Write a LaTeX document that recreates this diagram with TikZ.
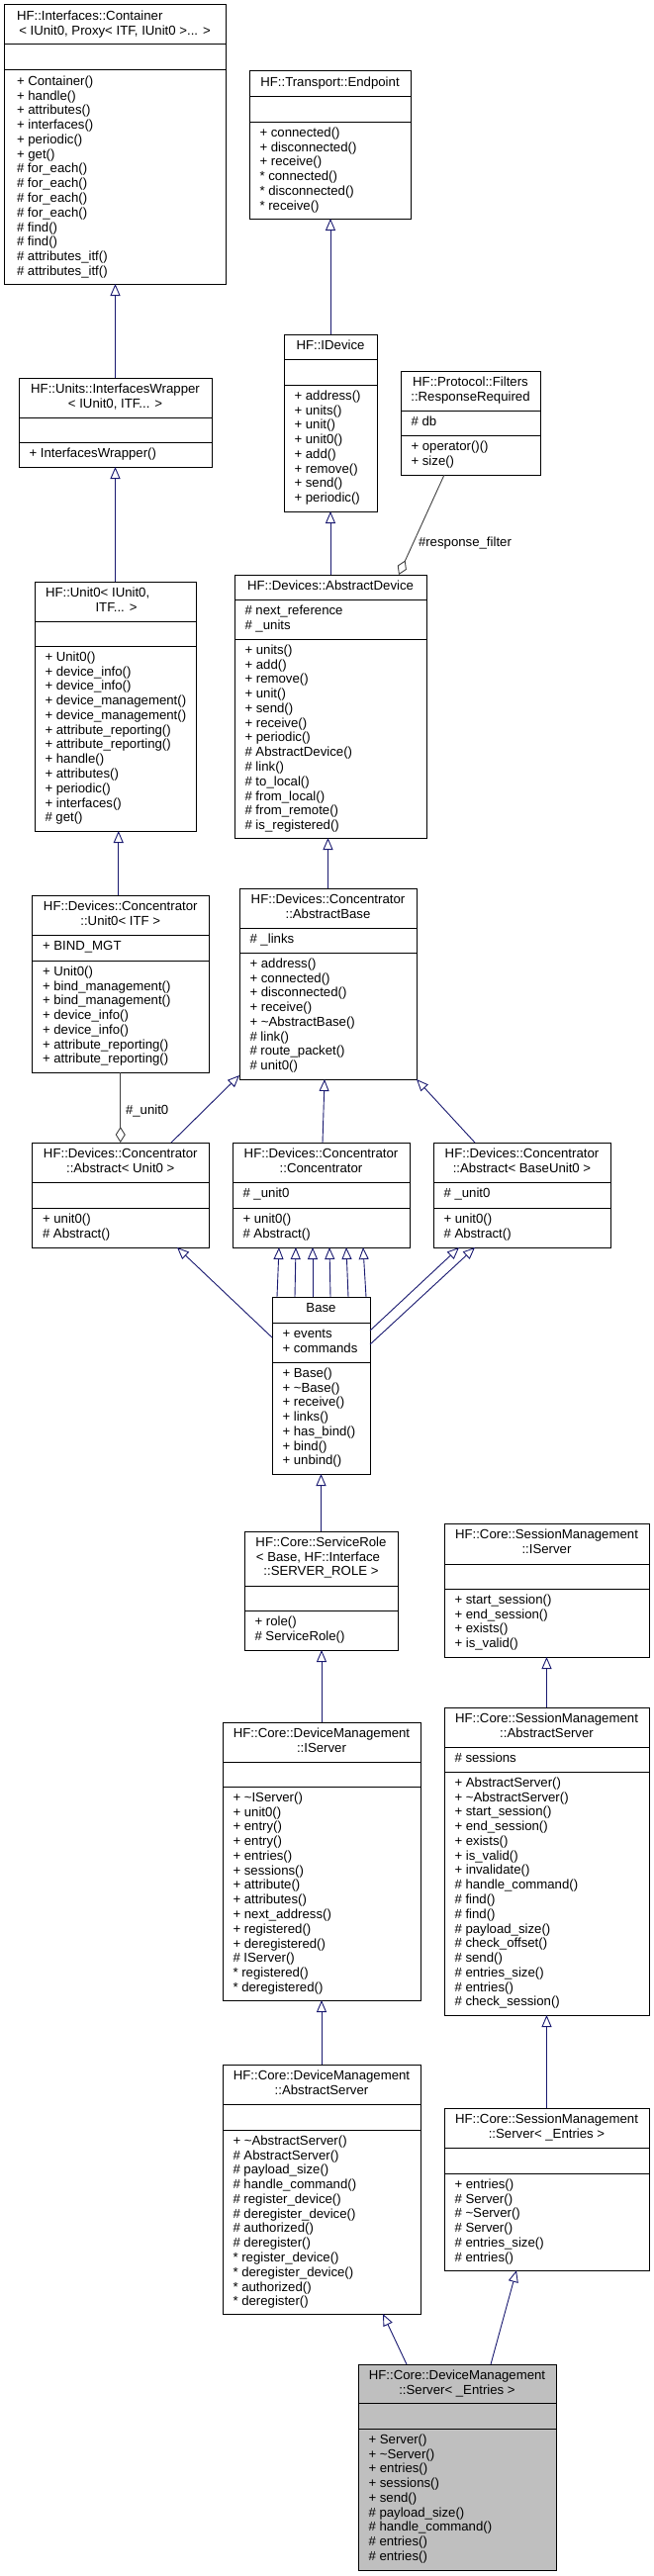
\documentclass[tikz,border=0pt]{standalone}
\usepackage{fontspec}
\setmainfont{Liberation Sans}
\usetikzlibrary{arrows.meta}
\definecolor{navyc}{HTML}{191970}
\definecolor{aggc}{HTML}{404040}
\definecolor{selc}{HTML}{BFBFBF}
\tikzset{
  clsbox/.style={rectangle, draw=black, line width=1pt, fill=white, inner sep=0pt, outer sep=0pt},
  sepl/.style={draw=black, line width=1pt},
  txt/.style={font=\fontsize{13.2}{14.77}\selectfont, inner sep=0pt, outer sep=0pt},
  inh/.style={draw=navyc, line width=0.9pt, -{Triangle[length=12pt, width=10pt, fill=white]}},
  agg/.style={draw=aggc, line width=0.9pt, -{Diamond[length=16pt, width=10pt, fill=white]}}
}
% #1 options, #2 name, #3 left, #4 top, #5 right, #6 bottom, #7 sep1, #8 sep2
\newcommand\clsbx[8][]{%
  \node[clsbox,#1,anchor=north west,minimum width={#5-#3},minimum height={#6-#4}] (#2) at (#3,#4) {};
  \draw[sepl] (#3,#7) -- (#5,#7);
  \draw[sepl] (#3,#8) -- (#5,#8);}
\newcommand\ctitle[3]{\node[txt,anchor=base] at (#1,#2) {#3};}
\newcommand\wtitle[3]{\node[txt,anchor=base west] at (#1,#2) {#3};}
\newcommand\mlist[3]{\foreach \itm [count=\i from 0] in {#3} {\node[txt,anchor=base west] at ({#1},{#2+\i*14.77}) {\itm};}}
\begin{document}
\begin{tikzpicture}[x=1pt,y=-1pt]
\fill[white] (0,0) rectangle (661,2604);
\useasboundingbox (0,0) rectangle (661,2604);

% Container
\clsbx{container}{4}{5}{228}{287}{45}{71}
\wtitle{17}{20.3}{HF::Interfaces::Container}
\ctitle{116}{35.07}{< IUnit0, Proxy< ITF, IUnit0 >... >}
\mlist{17}{86.3}{+ Container(), + handle(), + attributes(), + interfaces(), + periodic(), + get(), \# for\_each(), \# for\_each(), \# for\_each(), \# for\_each(), \# find(), \# find(), \# attributes\_itf(), \# attributes\_itf()}

% InterfacesWrapper
\clsbx{wrapper}{19}{382}{214}{472}{422}{447}
\ctitle{116.5}{397.3}{HF::Units::InterfacesWrapper}
\ctitle{116.5}{412.07}{< IUnit0, ITF... >}
\mlist{29.5}{462.3}{+ InterfacesWrapper()}

% Unit0<IUnit0,ITF...>
\clsbx{unit0i}{35}{588}{198}{840}{628}{653}
\wtitle{46}{603.3}{HF::Unit0< IUnit0,}
\ctitle{117.5}{618.07}{ITF... >}
\mlist{45.5}{668.3}{+ Unit0(), + device\_info(), + device\_info(), + device\_management(), + device\_management(), + attribute\_reporting(), + attribute\_reporting(), + handle(), + attributes(), + periodic(), + interfaces(), \# get()}

% Endpoint
\clsbx{endpoint}{252}{72}{415}{221}{97}{123}
\ctitle{333.5}{87.3}{HF::Transport::Endpoint}
\mlist{262.5}{138.3}{+ connected(), + disconnected(), + receive(), * connected(), * disconnected(), * receive()}

% IDevice
\clsbx{idevice}{287}{338}{381}{517}{363}{389}
\ctitle{334}{353.3}{HF::IDevice}
\mlist{297.5}{404.3}{+ address(), + units(), + unit(), + unit0(), + add(), + remove(), + send(), + periodic()}

% ResponseRequired
\clsbx{respreq}{405}{375}{546}{480}{415}{440}
\ctitle{475.5}{390.3}{HF::Protocol::Filters}
\ctitle{475.5}{405.07}{::ResponseRequired}
\mlist{415.5}{430.3}{\# db}
\mlist{415.5}{455.3}{+ operator()(), + size()}

% AbstractDevice
\clsbx{absdev}{237}{581}{431}{847}{606}{646}
\ctitle{334}{596.3}{HF::Devices::AbstractDevice}
\mlist{247.5}{621.3}{\# next\_reference, \# \_units}
\mlist{247.5}{661.3}{+ units(), + add(), + remove(), + unit(), + send(), + receive(), + periodic(), \# AbstractDevice(), \# link(), \# to\_local(), \# from\_local(), \# from\_remote(), \# is\_registered()}

% Concentrator::Unit0<ITF>
\clsbx{cunit0}{32.5}{905}{211}{1084}{945}{971}
\ctitle{121.75}{920.3}{HF::Devices::Concentrator}
\ctitle{121.75}{935.07}{::Unit0< ITF >}
\mlist{43}{960.3}{+ BIND\_MGT}
\mlist{43}{986.3}{+ Unit0(), + bind\_management(), + bind\_management(), + device\_info(), + device\_info(), + attribute\_reporting(), + attribute\_reporting()}

% AbstractBase
\clsbx{absbase}{242}{898}{421}{1091}{938}{963}
\ctitle{331.5}{913.3}{HF::Devices::Concentrator}
\ctitle{331.5}{928.07}{::AbstractBase}
\mlist{252.5}{953.3}{\# \_links}
\mlist{252.5}{978.3}{+ address(), + connected(), + disconnected(), + receive(), + \textasciitilde AbstractBase(), \# link(), \# route\_packet(), \# unit0()}

% Abstract<Unit0>
\clsbx{absunit0}{32.5}{1155}{211}{1261}{1195}{1221}
\ctitle{121.75}{1170.3}{HF::Devices::Concentrator}
\ctitle{121.75}{1185.07}{::Abstract< Unit0 >}
\mlist{43}{1236.3}{+ unit0(), \# Abstract()}

% Concentrator
\clsbx{conc}{235}{1155}{414}{1261}{1195}{1221}
\ctitle{324.5}{1170.3}{HF::Devices::Concentrator}
\ctitle{324.5}{1185.07}{::Concentrator}
\mlist{245.5}{1210.3}{\# \_unit0}
\mlist{245.5}{1236.3}{+ unit0(), \# Abstract()}

% Abstract<BaseUnit0>
\clsbx{absbu0}{438}{1155}{617}{1261}{1195}{1221}
\ctitle{527.5}{1170.3}{HF::Devices::Concentrator}
\ctitle{527.5}{1185.07}{::Abstract< BaseUnit0 >}
\mlist{448.5}{1210.3}{\# \_unit0}
\mlist{448.5}{1236.3}{+ unit0(), \# Abstract()}

% Base
\clsbx{base}{275}{1311}{374}{1490}{1337}{1377}
\ctitle{324.5}{1326.3}{Base}
\mlist{285.5}{1352.3}{+ events, + commands}
\mlist{285.5}{1392.3}{+ Base(), + \textasciitilde Base(), + receive(), + links(), + has\_bind(), + bind(), + unbind()}

% ServiceRole
\clsbx{srole}{247}{1548}{402}{1668}{1603}{1628}
\ctitle{324.5}{1563.3}{HF::Core::ServiceRole}
\ctitle{321.5}{1578.07}{< Base, HF::Interface}
\ctitle{324.5}{1592.84}{::SERVER\_ROLE >}
\mlist{257.5}{1643.3}{+ role(), \# ServiceRole()}

% SessionManagement::IServer
\clsbx{smis}{449}{1540}{656}{1675}{1581}{1606}
\ctitle{552.5}{1555.3}{HF::Core::SessionManagement}
\ctitle{552.5}{1570.07}{::IServer}
\mlist{459.5}{1621.3}{+ start\_session(), + end\_session(), + exists(), + is\_valid()}

% DeviceManagement::IServer
\clsbx{dmis}{225}{1741}{425}{2022}{1781}{1806}
\ctitle{325}{1756.3}{HF::Core::DeviceManagement}
\ctitle{325}{1771.07}{::IServer}
\mlist{235.5}{1821.3}{+ \textasciitilde IServer(), + unit0(), + entry(), + entry(), + entries(), + sessions(), + attribute(), + attributes(), + next\_address(), + registered(), + deregistered(), \# IServer(), * registered(), * deregistered()}

% SessionManagement::AbstractServer
\clsbx{smas}{449}{1726}{656}{2037}{1766}{1791}
\ctitle{552.5}{1741.3}{HF::Core::SessionManagement}
\ctitle{552.5}{1756.07}{::AbstractServer}
\mlist{459.5}{1781.3}{\# sessions}
\mlist{459.5}{1806.3}{+ AbstractServer(), + \textasciitilde AbstractServer(), + start\_session(), + end\_session(), + exists(), + is\_valid(), + invalidate(), \# handle\_command(), \# find(), \# find(), \# payload\_size(), \# check\_offset(), \# send(), \# entries\_size(), \# entries(), \# check\_session()}

% DeviceManagement::AbstractServer
\clsbx{dmas}{225}{2087}{425}{2339}{2127}{2153}
\ctitle{325}{2102.3}{HF::Core::DeviceManagement}
\ctitle{325}{2117.07}{::AbstractServer}
\mlist{235.5}{2168.3}{+ \textasciitilde AbstractServer(), \# AbstractServer(), \# payload\_size(), \# handle\_command(), \# register\_device(), \# deregister\_device(), \# authorized(), \# deregister(), * register\_device(), * deregister\_device(), * authorized(), * deregister()}

% SessionManagement::Server<_Entries>
\clsbx{sms}{449}{2131}{656}{2295}{2171}{2197}
\ctitle{552.5}{2146.3}{HF::Core::SessionManagement}
\ctitle{552.5}{2161.07}{::Server< \_Entries >}
\mlist{459.5}{2212.3}{+ entries(), \# Server(), \# \textasciitilde Server(), \# Server(), \# entries\_size(), \# entries()}

% DeviceManagement::Server<_Entries>
\clsbx[fill=selc]{dms}{362}{2390}{562}{2598}{2429}{2455}
\ctitle{462}{2405.3}{HF::Core::DeviceManagement}
\ctitle{462}{2420.07}{::Server< \_Entries >}
\mlist{372.5}{2470.3}{+ Server(), + \textasciitilde Server(), + entries(), + sessions(), + send(), \# payload\_size(), \# handle\_command(), \# entries(), \# entries()}

% ---- connectors ----
\draw[inh] (wrapper.north) -- (wrapper.north |- container.south);
\draw[inh] (unit0i.north) -- (unit0i.north |- wrapper.south);
\draw[inh] (idevice.north) -- (idevice.north |- endpoint.south);
\draw[inh] (absdev.north) -- (absdev.north |- idevice.south);
\draw[agg] ([xshift=44pt]respreq.south west) -- ([xshift=166pt]absdev.north west);
\node[txt,anchor=base west] (lblrf) at (423,552) {\#response\_filter};
\draw[inh] (absbase.north) -- (absbase.north |- absdev.south);
\draw[inh] ([xshift=-2pt]cunit0.north) -- ([xshift=-2pt]cunit0.north |- unit0i.south);
\draw[agg] (cunit0.south) -- (absunit0.north);
\node[txt,anchor=base west] (lblu0) at (127,1126) {\#\_unit0};
\draw[inh] ([xshift=140.5pt]absunit0.north west) -- ([yshift=4pt]absbase.south west);
\draw[inh] ([xshift=91pt]conc.north west) -- ([xshift=86pt]absbase.south west);
\draw[inh] ([xshift=42pt]absbu0.north west) -- (absbase.south east);
\foreach \a/\b in {5/47, 23/64, 41/81, 59/98, 77/115, 95/132}
  \draw[inh] ([xshift=\a pt]base.north west) -- ([xshift=\b pt]conc.south west);
\draw[inh] ([yshift=-41pt]base.north west) -- ([xshift=146.5pt]absunit0.south west);
\draw[inh] ([yshift=-34pt]base.north east) -- ([xshift=26pt]absbu0.south west);
\draw[inh] ([yshift=-48pt]base.north east) -- ([xshift=42pt]absbu0.south west);
\draw[inh] (srole.north) -- (srole.north |- base.south);
\draw[inh] (dmis.north) -- (dmis.north |- srole.south);
\draw[inh] (dmas.north) -- (dmas.north |- dmis.south);
\draw[inh] (smas.north) -- (smas.north |- smis.south);
\draw[inh] (sms.north) -- (sms.north |- smas.south);
\draw[inh] ([xshift=49pt]dms.north west) -- ([xshift=162pt]dmas.south west);
\draw[inh] ([xshift=134pt]dms.north west) -- ([xshift=73pt]sms.south west);
\end{tikzpicture}
\end{document}
